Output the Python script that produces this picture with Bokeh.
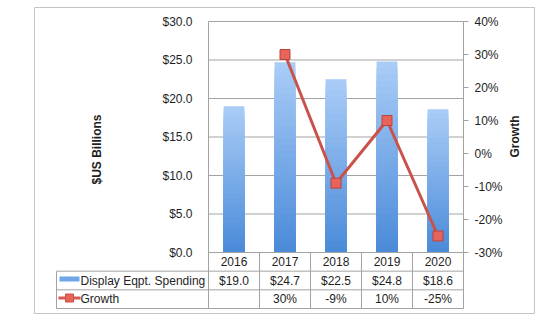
import math
from bokeh.plotting import figure
from bokeh.models import (Range1d, LinearAxis, FixedTicker, NumeralTickFormatter,
                          PrintfTickFormatter, Label)
from bokeh.core.properties import value
from bokeh.embed import file_html
from bokeh.resources import INLINE

# ---- data ----
years = ["2016", "2017", "2018", "2019", "2020"]
spending = [19.0, 24.7, 22.5, 24.8, 18.6]
growth = [None, 30, -9, 10, -25]
usd_ticks = [0, 5, 10, 15, 20, 25, 30]
pct_ticks = [-30, -20, -10, 0, 10, 20, 30, 40]
series_names = ["Display Eqpt. Spending", "Growth"]

# ---- layout (pixels) ----
W, H = 550, 323
FRAME_L, FRAME_R, FRAME_T, FRAME_B = 34, 534, 7, 313
PLOT_L, PLOT_R, PLOT_T, PLOT_B = 208, 463, 21, 252
TABLE_B, TABLE_L = 308, 56
n = len(years)
CAT_W = (PLOT_R - PLOT_L) / n
X0 = PLOT_L + CAT_W / 2
usd_max, usd_min = max(usd_ticks), min(usd_ticks)
pct_max, pct_min = max(pct_ticks), min(pct_ticks)
PX_USD = (PLOT_B - PLOT_T) / (usd_max - usd_min)
PX_PCT = (PLOT_B - PLOT_T) / (pct_max - pct_min)

def px2x(px):
    return (px - X0) / CAT_W

def px2y(py):
    return (PLOT_B - py) / PX_USD

FONT = value("Liberation Sans")
TXT = "#1e1e1e"
LINE = "#a3a3a3"

p = figure(width=W, height=H, output_backend="svg", toolbar_location=None,
           x_axis_location=None, y_axis_location=None,
           min_border_left=FRAME_L, min_border_right=W - FRAME_R,
           min_border_top=FRAME_T, min_border_bottom=H - FRAME_B,
           x_range=Range1d(px2x(FRAME_L), px2x(FRAME_R)),
           y_range=Range1d(px2y(FRAME_B), px2y(FRAME_T)))
p.extra_y_ranges = {"growth": Range1d(pct_min - (FRAME_B - PLOT_B) / PX_PCT,
                                      pct_max + (PLOT_T - FRAME_T) / PX_PCT)}
p.grid.visible = False
p.outline_line_color = "#c4c4c4"
p.outline_line_width = 1
p.background_fill_color = "white"
p.border_fill_color = "white"

xl, xr = -0.5, n - 0.5
ROW = (TABLE_B - PLOT_B) / 3 / PX_USD

# gridlines
grid_y = [t for t in usd_ticks if t > usd_min]
p.segment(x0=[xl] * len(grid_y), x1=[xr] * len(grid_y), y0=grid_y, y1=grid_y,
          line_color=LINE, line_width=1)

# bars with vertical gradient: overlapping slices, tallest (lightest) drawn first
N = 30
c_bot = (0x4a, 0x8a, 0xd9)
c_top = (0xaa, 0xcd, 0xf7)
bx, bt, bc = [], [], []
for k in range(N - 1, -1, -1):
    f = (k + 0.5) / N
    col = tuple(int(round(c_bot[j] + (c_top[j] - c_bot[j]) * f)) for j in range(3))
    for i, v in enumerate(spending):
        bx.append(i)
        bt.append(v * (k + 1) / N)
        bc.append("#%02x%02x%02x" % col)
p.vbar(x=bx, bottom=0, top=bt, width=0.41, fill_color=bc, line_color=None)

# table lines
hy = [0, -ROW, -2 * ROW, -3 * ROW]
hx0 = [xl, px2x(TABLE_L), px2x(TABLE_L), px2x(TABLE_L)]
p.segment(x0=hx0, x1=[xr] * 4, y0=hy, y1=hy, line_color=LINE, line_width=1)
vx = [i - 0.5 for i in range(n + 1)]
p.segment(x0=vx, x1=vx, y0=[-3 * ROW] * len(vx), y1=[0] * len(vx),
          line_color=LINE, line_width=1)
p.segment(x0=[xl, px2x(TABLE_L)], x1=[xl, px2x(TABLE_L)],
          y0=[-3 * ROW, -3 * ROW], y1=[usd_max, -ROW], line_color=LINE, line_width=1)

# growth line
gx = [i for i, g in enumerate(growth) if g is not None]
gy = [g for g in growth if g is not None]
p.line(gx, gy, y_range_name="growth", line_color="#c9524a", line_width=3)
p.scatter(gx, gy, y_range_name="growth", marker="square", size=10,
          fill_color="#e8645b", line_color="#b9453d", line_width=1)

# table texts
txt_kw = dict(text_font=FONT, text_font_size="12px", text_color=TXT,
              text_align="center", text_baseline="middle")
p.text(x=list(range(n)), y=[-ROW * 0.5] * n, text=years, **txt_kw)
p.text(x=list(range(n)), y=[-ROW * 1.5] * n,
       text=["$%.1f" % v for v in spending], **txt_kw)
p.text(x=list(range(n)), y=[-ROW * 2.5] * n,
       text=["" if g is None else "%d%%" % g for g in growth], **txt_kw)

# legend column
lx = px2x(80)
p.text(x=[lx, lx], y=[-ROW * 1.5, -ROW * 2.5], text=series_names,
       text_font=FONT, text_font_size="12px", text_color=TXT,
       text_align="left", text_baseline="middle")
p.rect(x=[px2x(69)], y=[px2y(278.5)], width=20, height=5,
       width_units="screen", height_units="screen",
       fill_color="#6fa6ea", line_color=None)
p.segment(x0=[px2x(58)], x1=[px2x(80)], y0=[px2y(297.5)], y1=[px2y(297.5)],
          line_color="#d9574f", line_width=3)
p.scatter(x=[px2x(69)], y=[px2y(297.5)], marker="square", size=8,
          fill_color="#e8645b", line_color="#c9524a", line_width=1)

# left axis
ly = LinearAxis(fixed_location=xl, bounds=(usd_min, usd_max),
                ticker=FixedTicker(ticks=usd_ticks),
                formatter=NumeralTickFormatter(format="$0.0"))
ly.axis_line_color = None
ly.major_tick_line_color = None
ly.minor_tick_line_color = None
ly.major_label_standoff = 10
ly.major_label_text_font = "Liberation Sans"
ly.major_label_text_font_size = "12px"
ly.major_label_text_color = TXT
p.add_layout(ly, "left")

# right axis
ry = LinearAxis(y_range_name="growth", fixed_location=xr, bounds=(pct_min, pct_max),
                ticker=FixedTicker(ticks=pct_ticks),
                formatter=PrintfTickFormatter(format="%d%%"))
ry.axis_line_color = LINE
ry.major_tick_line_color = LINE
ry.major_tick_out = 5
ry.major_tick_in = 0
ry.minor_tick_line_color = None
ry.major_label_standoff = 6
ry.major_label_text_font = "Liberation Sans"
ry.major_label_text_font_size = "12px"
ry.major_label_text_color = TXT
p.add_layout(ry, "right")

# axis titles
p.add_layout(Label(x=px2x(96), y=px2y(149), text="$US Billions", angle=math.pi / 2,
                   text_font="Liberation Sans", text_font_size="12px",
                   text_font_style="bold", text_color=TXT,
                   text_align="center", text_baseline="middle"))
p.add_layout(Label(x=px2x(514), y=px2y(136), text="Growth", angle=math.pi / 2,
                   text_font="Liberation Sans", text_font_size="12px",
                   text_font_style="bold", text_color=TXT,
                   text_align="center", text_baseline="middle"))

open("out.html", "w").write(file_html(p, INLINE))
